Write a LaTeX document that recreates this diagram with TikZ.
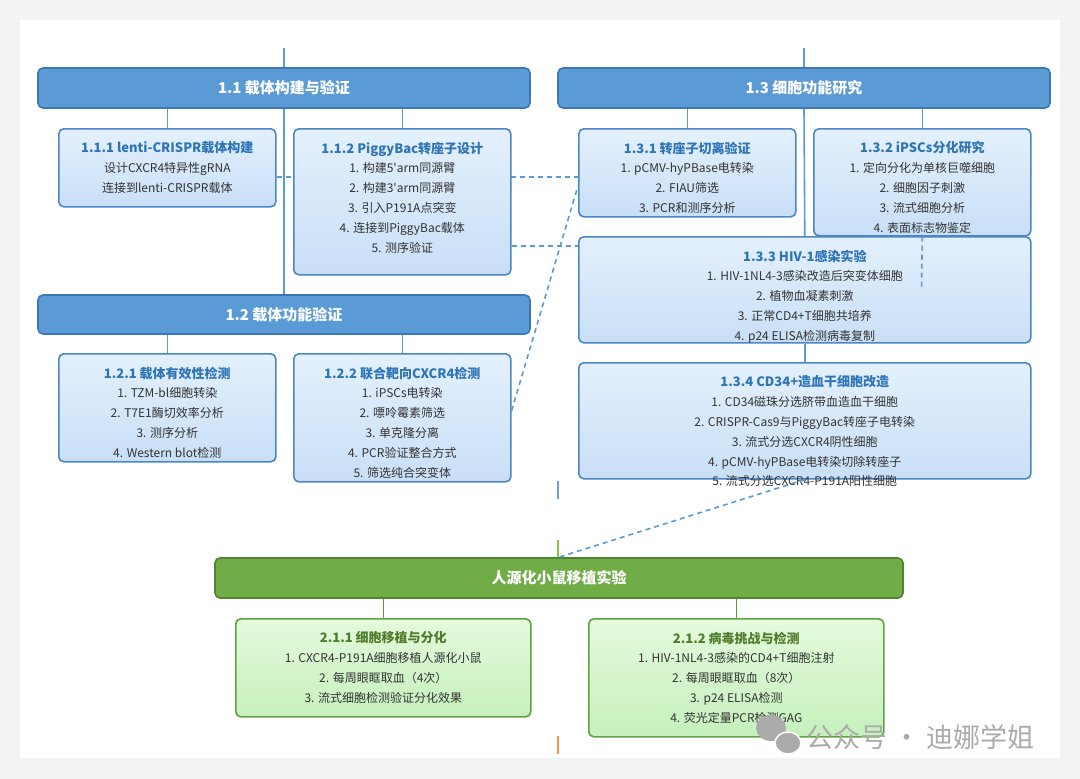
\documentclass[tikz,border=0pt]{standalone}
\usepackage{fontspec}
\setmainfont{Noto Sans CJK SC}
\newfontfamily\cjkplain{Noto Sans CJK SC}
\usetikzlibrary{positioning}
\definecolor{hdrblue}{HTML}{5B9BD5}
\definecolor{hdrline}{HTML}{3C78B5}
\definecolor{boxline}{HTML}{4A86C8}
\definecolor{boxtop}{HTML}{E4F0FC}
\definecolor{boxbot}{HTML}{C9DFF7}
\definecolor{ttlblue}{HTML}{2E75B6}
\definecolor{bodygray}{HTML}{333333}
\definecolor{hdrgreen}{HTML}{70AD47}
\definecolor{greenline}{HTML}{548235}
\definecolor{gboxline}{HTML}{62A046}
\definecolor{gboxtop}{HTML}{E4FADC}
\definecolor{gboxbot}{HTML}{C6F0BD}
\definecolor{ttlgreen}{HTML}{4E7D2E}
\definecolor{stubblue}{HTML}{6D9EEB}
\definecolor{stubgreen}{HTML}{8BC34A}
\definecolor{stuborange}{HTML}{F79646}
\definecolor{wmgray}{HTML}{ABABAB}
\definecolor{pagegray}{HTML}{F3F3F3}
\pgfdeclarelayer{card}
\pgfdeclarelayer{behind}
\pgfsetlayers{card,behind,main}
\newcommand*{\btitle}[1]{{\fontsize{13pt}{19.8pt}\selectfont\bfseries\color{ttlblue}#1}}
\newcommand*{\gtitle}[1]{{\fontsize{13pt}{19.8pt}\selectfont\bfseries\color{ttlgreen}#1}}
\newcommand*{\apos}{{\cjkplain\char"27\relax}}

\begin{document}
\begin{tikzpicture}[x=1pt,y=-1pt,
    hdr/.style={draw=hdrline, line width=1.6pt, fill=hdrblue,
        rounded corners=5pt, minimum width=492pt, minimum height=40pt,
        text=white, font=\fontsize{15pt}{18pt}\selectfont\bfseries},
    subbox/.style={draw=boxline, line width=1.6pt, rounded corners=5pt,
        top color=boxtop, bottom color=boxbot, minimum width=217pt,
        inner sep=0pt, anchor=north west},
    widebox/.style={subbox, minimum width=452pt},
    greenhdr/.style={hdr, draw=greenline, fill=hdrgreen, minimum width=688pt},
    greenbox/.style={subbox, draw=gboxline, top color=gboxtop,
        bottom color=gboxbot, minimum width=295pt},
    boxtext/.style={align=center, text=bodygray, inner sep=0pt,
        font=\fontsize{12pt}{19.8pt}\selectfont},
    link/.style={draw=hdrblue, line width=1.6pt},
    dlink/.style={draw=hdrblue, line width=1.6pt, dash pattern=on 5pt off 4pt},
    stub/.style={line width=2pt}
]
\useasboundingbox (0,0) rectangle (1080,779);
\begin{pgfonlayer}{card}
  \fill[pagegray] (0,0) rectangle (1080,779);
  \fill[white] (20,20) rectangle (1060,758);
\end{pgfonlayer}

% 1.1 vector construction
\node[hdr] (h11) at (284,88) {1.1 载体构建与验证};
\node[subbox, minimum height=78pt] (b111) at (58,128) {};
\node[subbox, minimum height=146pt] (b112) at (293,128) {};
\node[boxtext, below=13.5pt of b111.north] (t111)
    {\btitle{1.1.1 lenti-CRISPR载体构建}\\设计CXCR4特异性gRNA\\连接到lenti-CRISPR载体};
\node[boxtext, below=13.5pt of b112.north] (t112)
    {\btitle{1.1.2 PiggyBac转座子设计}\\1. 构建5\apos arm同源臂\\2. 构建3\apos arm同源臂\\3. 引入P191A点突变\\4. 连接到PiggyBac载体\\5. 测序验证};

% 1.2 vector function
\node[hdr, minimum height=39pt] (h12) at (284,314.5) {1.2 载体功能验证};
\node[subbox, minimum height=108pt] (b121) at (58,353) {};
\node[subbox, minimum height=128pt] (b122) at (293,353) {};
\node[boxtext, below=13.5pt of b121.north] (t121)
    {\btitle{1.2.1 载体有效性检测}\\1. TZM-bl细胞转染\\2. T7E1酶切效率分析\\3. 测序分析\\4. Western blot检测};
\node[boxtext, below=13.5pt of b122.north] (t122)
    {\btitle{1.2.2 联合靶向CXCR4检测}\\1. iPSCs电转染\\2. 嘌呤霉素筛选\\3. 单克隆分离\\4. PCR验证整合方式\\5. 筛选纯合突变体};

% 1.3 cell function
\node[hdr] (h13) at (804,88) {1.3 细胞功能研究};
\node[subbox, minimum height=88pt] (b131) at (578,128) {};
\node[subbox, minimum height=107pt] (b132) at (813,128) {};
\node[widebox, minimum height=106pt] (b133) at (578,236) {};
\node[widebox, minimum height=116pt] (b134) at (578,362) {};
\node[boxtext, below=13.5pt of b131.north] (t131)
    {\btitle{1.3.1 转座子切离验证}\\1. pCMV-hyPBase电转染\\2. FIAU筛选\\3. PCR和测序分析};
\node[boxtext, below=13.5pt of b132.north] (t132)
    {\btitle{1.3.2 iPSCs分化研究}\\1. 定向分化为单核巨噬细胞\\2. 细胞因子刺激\\3. 流式细胞分析\\4. 表面标志物鉴定};
\node[boxtext, below=13.5pt of b133.north] (t133)
    {\btitle{1.3.3 HIV-1感染实验}\\1. HIV-1NL4-3感染改造后突变体细胞\\2. 植物血凝素刺激\\3. 正常CD4+T细胞共培养\\4. p24 ELISA检测病毒复制};
\node[boxtext, below=13.5pt of b134.north] (t134)
    {\btitle{1.3.4 CD34+造血干细胞改造}\\1. CD34磁珠分选脐带血造血干细胞\\2. CRISPR-Cas9与PiggyBac转座子电转染\\3. 流式分选CXCR4阴性细胞\\4. pCMV-hyPBase电转染切除转座子\\5. 流式分选CXCR4-P191A阳性细胞};

% 2 humanized mice
\node[greenhdr] (h2) at (559,578) {人源化小鼠移植实验};
\node[greenbox, minimum height=98pt] (g211) at (235,618) {};
\node[greenbox, minimum height=118pt] (g212) at (588,618) {};
\node[boxtext, below=13.5pt of g211.north] (t211)
    {\gtitle{2.1.1 细胞移植与分化}\\1. CXCR4-P191A细胞移植人源化小鼠\\2. 每周眼眶取血（4次）\\3. 流式细胞检测验证分化效果};
\node[boxtext, below=13.5pt of g212.north] (t212)
    {\gtitle{2.1.2 病毒挑战与检测}\\1. HIV-1NL4-3感染的CD4+T细胞注射\\2. 每周眼眶取血（8次）\\3. p24 ELISA检测\\4. 荧光定量PCR检测GAG};

% solid links
\coordinate (top11) at (284,48);
\coordinate (top13) at (804,48);
\draw[link] (top11) -- (h11.north);
\draw[link] (h11.south) -- (h12.north);
\draw[link] (h11.south -| b111.north) -- (b111.north);
\draw[link] (h11.south -| b112.north) -- (b112.north);
\draw[link] (h12.south -| b121.north) -- (b121.north);
\draw[link] (h12.south -| b122.north) -- (b122.north);
\draw[link] (top13) -- (h13.north);
\draw[link] (h13.south) -- (b133.north);
\draw[link] (h13.south -| b131.north) -- (b131.north);
\draw[link] (h13.south -| b132.north) -- (b132.north);
\draw[link] (b133.south) -- (b134.north);
\draw[link, draw=greenline!60!hdrgreen] (h2.south -| g211.north) -- (g211.north);
\draw[link, draw=greenline!60!hdrgreen] (h2.south -| g212.north) -- (g212.north);

% dashed links
\begin{pgfonlayer}{behind}
\draw[dlink] ([yshift=-9pt]b111.east) -- ([yshift=-9pt]b111.east -| b131.west);
\end{pgfonlayer}
\draw[dlink] ([yshift=-44pt]b112.east) -- ([yshift=-44pt]b112.east -| b133.west);
\draw[dlink] ([yshift=7pt]b122.east) -- ([yshift=-13pt]b131.west);
\coordinate (d132) at (921.5,290);
\draw[dlink] (b132.south) -- (d132);
\draw[dlink] (b134.south) -- (h2.north);

% stray stubs
\coordinate (sb1) at (558,481);
\coordinate (sb2) at (558,499);
\draw[stub, stubblue] (sb1) -- (sb2);
\coordinate (sg1) at (558,540);
\draw[stub, stubgreen] (sg1) -- (sg1 |- h2.north);
\coordinate (so1) at (558,736);
\coordinate (so2) at (558,754);
\draw[stub, stuborange] (so1) -- (so2);

% watermark
\fill[wmgray] (771,728) ellipse (15 and 13);
\filldraw[fill=wmgray, draw=white, line width=1.5pt] (788,743) ellipse (13 and 11);
\node[text=wmgray, font=\fontsize{27pt}{31pt}\selectfont, anchor=west] (wmark) at (803,737) {公众号 · 迪娜学姐};
\end{tikzpicture}
\end{document}
